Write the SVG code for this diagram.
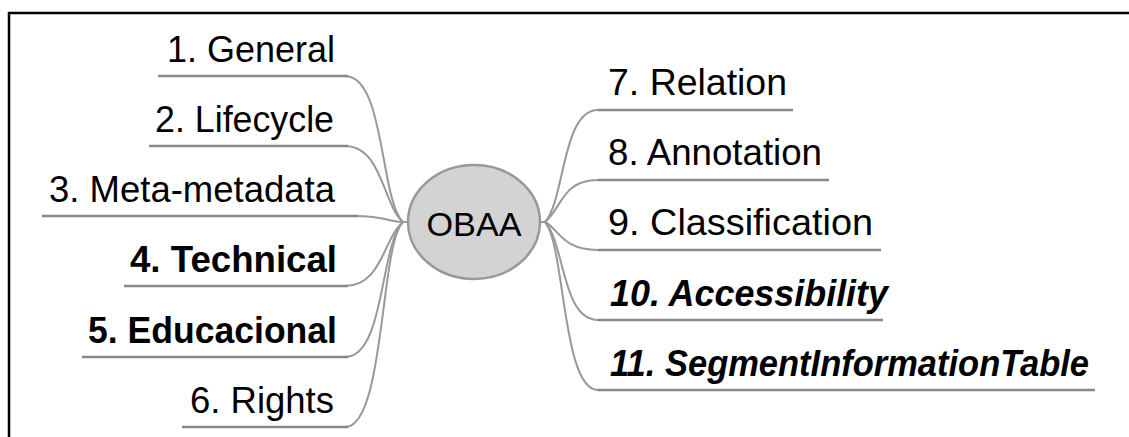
<svg xmlns="http://www.w3.org/2000/svg" width="1129" height="437" viewBox="0 0 1129 437">
<style>
.t{font-family:"Liberation Sans",Arial,sans-serif;font-size:36px;fill:#000}
.b{font-weight:bold}
.bi{font-weight:bold;font-style:italic}
.ul{stroke:#888;stroke-width:2.5;fill:none}
.c{stroke:#999;stroke-width:2;fill:none}
</style>
<rect x="9" y="13" width="1200" height="500" fill="#fff" stroke="#000" stroke-width="2.5"/>
<g id="connectors">
<path class="c" d="M409 222 H403"/>
<path class="c" d="M345 76 C385 76 380 200 403 222"/>
<path class="c" d="M345 146 C382 146 383 205 403 222"/>
<path class="c" d="M355 216 C385 216 390 222 403 222"/>
<path class="c" d="M345 286 C382 286 383 239 403 222"/>
<path class="c" d="M345 357 C385 357 380 244 403 222"/>
<path class="c" d="M345 427 C385 427 380 244 403 222"/>
<path class="c" d="M539 222 H545"/>
<path class="c" d="M598 110 C562 110 565 200 545 222"/>
<path class="c" d="M598 180 C562 180 562 208 545 222"/>
<path class="c" d="M598 250 C562 250 560 230 545 222"/>
<path class="c" d="M598 320 C562 320 565 244 545 222"/>
<path class="c" d="M598 390 C562 390 565 244 545 222"/>
</g>
<g id="n1"><text class="t" x="167" y="62" textLength="168" lengthAdjust="spacingAndGlyphs">1. General</text><line class="ul" x1="158" y1="76" x2="348" y2="76"/></g>
<g id="n2"><text class="t" x="155" y="132" textLength="179" lengthAdjust="spacingAndGlyphs">2. Lifecycle</text><line class="ul" x1="149" y1="146" x2="348" y2="146"/></g>
<g id="n3"><text class="t" x="49" y="202" textLength="286" lengthAdjust="spacingAndGlyphs">3. Meta-metadata</text><line class="ul" x1="42" y1="216" x2="358" y2="216"/></g>
<g id="n4"><text class="t b" x="130" y="272" textLength="207" lengthAdjust="spacingAndGlyphs">4. Technical</text><line class="ul" x1="124" y1="286" x2="348" y2="286"/></g>
<g id="n5"><text class="t b" x="88" y="343" textLength="249" lengthAdjust="spacingAndGlyphs">5. Educacional</text><line class="ul" x1="82" y1="357" x2="348" y2="357"/></g>
<g id="n6"><text class="t" x="190" y="413" textLength="144" lengthAdjust="spacingAndGlyphs">6. Rights</text><line class="ul" x1="182" y1="427" x2="348" y2="427"/></g>
<g id="root"><ellipse cx="474" cy="222" rx="66" ry="57" fill="#d3d3d3" stroke="#999" stroke-width="2.5"/><text class="t" x="474" y="236" text-anchor="middle" textLength="95" lengthAdjust="spacingAndGlyphs" style="font-size:34px">OBAA</text></g>
<g id="n7"><text class="t" x="608" y="95" textLength="179" lengthAdjust="spacingAndGlyphs">7. Relation</text><line class="ul" x1="598" y1="110" x2="793" y2="110"/></g>
<g id="n8"><text class="t" x="608" y="165" textLength="214" lengthAdjust="spacingAndGlyphs">8. Annotation</text><line class="ul" x1="598" y1="180" x2="829" y2="180"/></g>
<g id="n9"><text class="t" x="608" y="235" textLength="265" lengthAdjust="spacingAndGlyphs">9. Classification</text><line class="ul" x1="598" y1="250" x2="881" y2="250"/></g>
<g id="n10"><text class="t bi" x="610" y="306" textLength="278" lengthAdjust="spacingAndGlyphs">10. Accessibility</text><line class="ul" x1="598" y1="320" x2="883" y2="320"/></g>
<g id="n11"><text class="t bi" x="610" y="376" textLength="479" lengthAdjust="spacingAndGlyphs">11. SegmentInformationTable</text><line class="ul" x1="598" y1="390" x2="1095" y2="390"/></g>
</svg>
